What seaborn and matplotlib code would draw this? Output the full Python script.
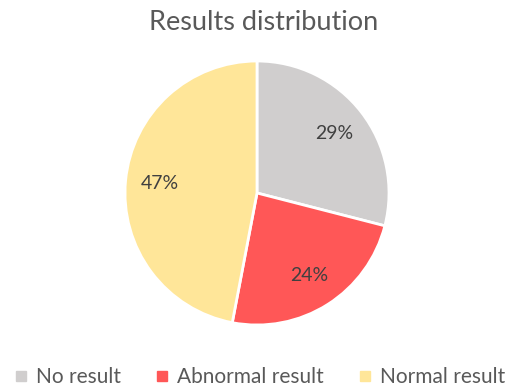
import matplotlib
matplotlib.use("Agg")
import matplotlib.pyplot as plt
import seaborn as sns
from matplotlib.lines import Line2D

sns.set_theme(style="white")
plt.rcParams["font.family"] = ["Lato", "DejaVu Sans"]

categories = ["No result", "Abnormal result", "Normal result"]
shares = [29, 24, 47]
colors = ["#D0CECE", "#FF5757", "#FFE699"]

fig = plt.figure(figsize=(5.13, 3.9), dpi=100)
# pie axes: centre ~ (257, 193) px, radius ~ 132 px
W, H = 513, 390
cx, cy, r = 257, 193, 132
ax = fig.add_axes([(cx - r) / W, 1 - (cy + r) / H, 2 * r / W, 2 * r / H])

wedges, texts, autotexts = ax.pie(
    shares,
    colors=colors,
    startangle=90,
    counterclock=False,
    autopct="%.0f%%",
    pctdistance=0.74,
    wedgeprops=dict(edgecolor="white", linewidth=2),
    textprops=dict(color="#404040", fontsize=14),
)
ax.set_aspect("equal")
ax.set_xlim(-1, 1)
ax.set_ylim(-1, 1)
ax.axis("off")

fig.text(264 / W, 1 - 22 / H, "Results distribution", ha="center", va="center",
         fontsize=19.5, color="#595959")

handles = [Line2D([0], [0], marker="s", linestyle="", markersize=7,
                  markerfacecolor=c, markeredgecolor=c) for c in colors]
fig.legend(handles, categories, loc="center", bbox_to_anchor=(259 / W, 1 - 377 / H),
           ncol=3, frameon=False, fontsize=15, handletextpad=0.3,
           columnspacing=1.6, labelcolor="#595959", handlelength=0.8)

fig.savefig("out.png", dpi=100, facecolor="white")
